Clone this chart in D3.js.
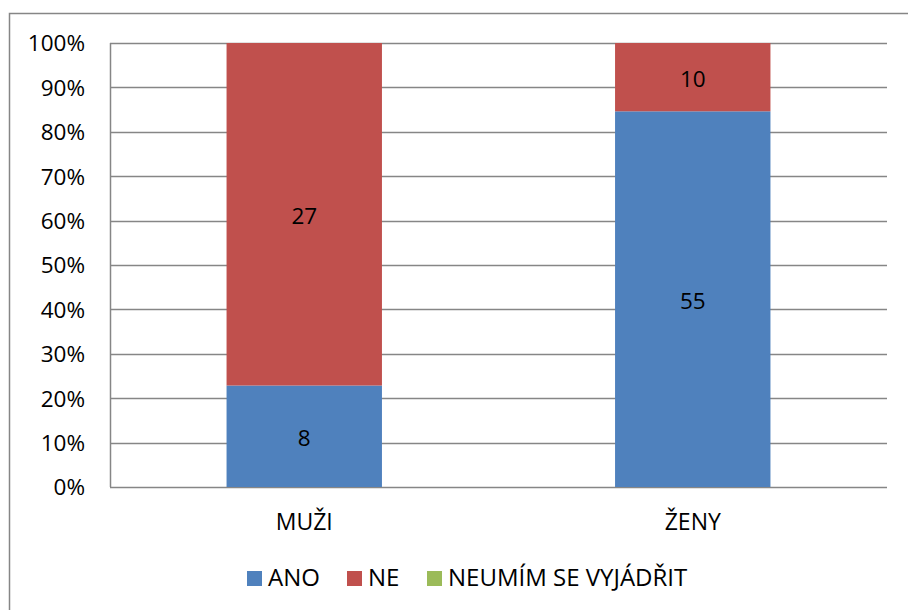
<!DOCTYPE html>
<html>
<head>
<meta charset="utf-8">
<script src="https://cdn.jsdelivr.net/npm/d3@7"></script>
<style>
  body { margin: 0; background: #fff; }
  text { font-family: "Open Sans", "Noto Sans", sans-serif; fill: #000; }
</style>
</head>
<body>
<svg id="chart"></svg>
<script>
// data
var categories = ["MUŽI", "ŽENY"]
var seriesNames = ["ANO", "NE", "NEUMÍM SE VYJÁDŘIT"]
var ano = [8, 55]
var ne = [27, 10]
var neumim = [0, 0]
var tickValues = [0, 0.1, 0.2, 0.3, 0.4, 0.5, 0.6, 0.7, 0.8, 0.9, 1]

var colors = ["#4F81BD", "#C0504D", "#9BBB59"]

var width = 908,
    height = 610

var margin = { top: 43, right: 21, bottom: 123, left: 110 }

var svg = d3.select("#chart")
    .attr("width", width)
    .attr("height", height)

// outer frame
svg.append("rect")
    .attr("x", 9.5)
    .attr("y", 13.5)
    .attr("width", width + 10)
    .attr("height", height + 10)
    .attr("fill", "none")
    .attr("stroke", "#868686")
    .attr("stroke-width", 1.5)

var innerW = width - margin.left - margin.right,
    innerH = height - margin.top - margin.bottom

var g = svg.append("g")
    .attr("transform", "translate(" + margin.left + "," + margin.top + ")")

// build table
var table = categories.map(function (c, i) {
    return { cat: c, ANO: ano[i], NE: ne[i], "NEUMÍM SE VYJÁDŘIT": neumim[i] }
})

var stack = d3.stack()
    .keys(seriesNames)
    .offset(d3.stackOffsetExpand)
var layers = stack(table)

var x = d3.scaleBand()
    .domain(categories)
    .range([0, innerW])
    .paddingInner(0.6)
    .paddingOuter(0.3)

var y = d3.scaleLinear()
    .domain([0, 1])
    .range([innerH, 0])

// gridlines
g.append("g")
    .selectAll("line")
    .data(tickValues)
    .enter()
    .append("line")
    .attr("x1", 0)
    .attr("x2", innerW)
    .attr("y1", function (d) { return Math.round(y(d)) + 0.5 })
    .attr("y2", function (d) { return Math.round(y(d)) + 0.5 })
    .attr("stroke", "#868686")
    .attr("stroke-width", 1.5)

// y axis
var yAxis = d3.axisLeft(y)
    .tickValues(tickValues)
    .tickFormat(d3.format(".0%"))
    .tickSize(0)
    .tickPadding(25)

var gy = g.append("g").call(yAxis)
gy.select(".domain").remove()
gy.selectAll("text")
    .style("font-size", "22.5px")
    .attr("dy", "0.35em")

g.append("line")
    .attr("x1", 0.5).attr("x2", 0.5)
    .attr("y1", 0).attr("y2", innerH)
    .attr("stroke", "#868686")
    .attr("stroke-width", 1.5)

// bars
var groups = g.selectAll(".layer")
    .data(layers)
    .enter()
    .append("g")
    .attr("class", "layer")
    .attr("fill", function (d, i) { return colors[i] })

groups.selectAll("rect")
    .data(function (d) { return d })
    .enter()
    .append("rect")
    .attr("x", function (d) { return x(d.data.cat) })
    .attr("width", x.bandwidth())
    .attr("y", function (d) { return y(d[1]) })
    .attr("height", function (d) { return y(d[0]) - y(d[1]) })

// values
groups.each(function (layer) {
    d3.select(this).selectAll("text")
        .data(layer.filter(function (d) { return d.data[layer.key] > 0 }))
        .enter()
        .append("text")
        .attr("x", function (d) { return x(d.data.cat) + x.bandwidth() / 2 })
        .attr("y", function (d) { return (y(d[0]) + y(d[1])) / 2 + 2 })
        .attr("dy", "0.35em")
        .attr("text-anchor", "middle")
        .style("font-size", "22.5px")
        .text(function (d) { return d.data[layer.key] })
})

// x labels
g.append("g")
    .selectAll("text")
    .data(categories)
    .enter()
    .append("text")
    .attr("x", function (d) { return x(d) + x.bandwidth() / 2 })
    .attr("y", innerH + 35)
    .attr("dy", "0.35em")
    .attr("text-anchor", "middle")
    .style("font-size", "23px")
    .text(function (d) { return d })

// legend
var legendX = [247, 347, 427]
var legend = svg.append("g")
    .selectAll("g")
    .data(seriesNames)
    .enter()
    .append("g")
    .attr("transform", function (d, i) { return "translate(" + legendX[i] + ",578)" })

legend.append("rect")
    .attr("x", 0)
    .attr("y", -7)
    .attr("width", 15)
    .attr("height", 15)
    .attr("fill", function (d, i) { return colors[i] })

legend.append("text")
    .attr("x", 21)
    .attr("y", 0)
    .attr("dy", "0.35em")
    .style("font-size", "24px")
    .text(function (d) { return d })
</script>
</body>
</html>
